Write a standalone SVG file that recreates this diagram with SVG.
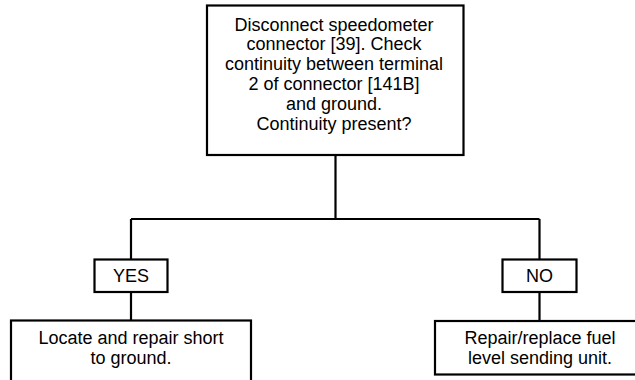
<svg xmlns="http://www.w3.org/2000/svg" width="635" height="380" viewBox="0 0 635 380">
<style>
.box{fill:#fff;stroke:#000;stroke-width:2.2}
.ln{fill:none;stroke:#000;stroke-width:2.2}
text{font-family:"Liberation Sans",Arial,sans-serif;font-size:18px;fill:#000;text-anchor:middle}
</style>
<rect width="635" height="380" fill="#fff"/>
<g id="connectors">
<path class="ln" d="M335.5 155V219M131 219H539.5M131 219V259M131 292V321M539.5 219V259M539.5 292V321"/>
</g>
<g id="question">
<rect class="box" x="207" y="5.5" width="256.5" height="149.5"/>
<text x="334" y="30.5">Disconnect speedometer</text>
<text x="334" y="50.3">connector [39]. Check</text>
<text x="334" y="70.1">continuity between terminal</text>
<text x="334" y="89.9">2 of connector [141B]</text>
<text x="334" y="109.7">and ground.</text>
<text x="334" y="129.5">Continuity present?</text>
</g>
<g id="yes">
<rect class="box" x="94.5" y="259.5" width="73" height="32.5"/>
<text x="131" y="282">YES</text>
</g>
<g id="no">
<rect class="box" x="502.5" y="259.5" width="74" height="32.5"/>
<text x="539.5" y="282">NO</text>
</g>
<g id="repair-short">
<rect class="box" x="11" y="320.5" width="240" height="70"/>
<text x="131" y="343.5">Locate and repair short</text>
<text x="131" y="363.5">to ground.</text>
</g>
<g id="replace-unit">
<rect class="box" x="435" y="321" width="215" height="53.5"/>
<text x="540" y="343.5">Repair/replace fuel</text>
<text x="540" y="363.5">level sending unit.</text>
</g>
</svg>
